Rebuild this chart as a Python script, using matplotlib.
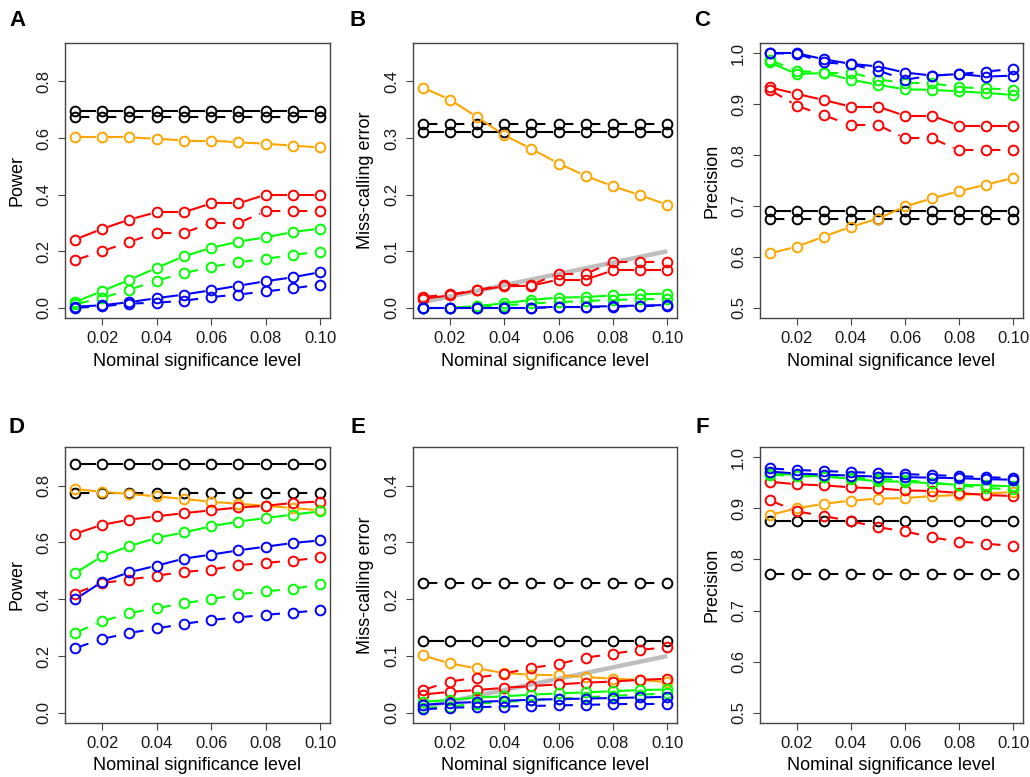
import numpy as np
import matplotlib
matplotlib.use('Agg')
import matplotlib.pyplot as plt

plt.rcParams['font.family'] = ['Liberation Sans', 'DejaVu Sans']

# nominal significance levels (x axis)
NOMINAL = [0.01, 0.02, 0.03, 0.04, 0.05, 0.06, 0.07, 0.08, 0.09, 0.10]
COLORS = ['black', 'orange', 'red', 'green', 'blue']
RCOL = {'black': '#000000', 'orange': '#FFA500', 'red': '#FF0000',
        'green': '#00FF00', 'blue': '#0000FF'}

# ---- panel A : power (solid / dashed)
A_SOLID = {
    'black':  [0.695, 0.695, 0.695, 0.695, 0.695, 0.695, 0.695, 0.695, 0.695, 0.695],
    'orange': [0.602, 0.602, 0.602, 0.598, 0.591, 0.591, 0.585, 0.580, 0.573, 0.567],
    'red':    [0.241, 0.279, 0.312, 0.338, 0.338, 0.369, 0.369, 0.400, 0.400, 0.400],
    'green':  [0.020, 0.059, 0.099, 0.141, 0.182, 0.212, 0.234, 0.249, 0.268, 0.280],
    'blue':   [0.004, 0.009, 0.020, 0.034, 0.047, 0.062, 0.078, 0.094, 0.108, 0.126],
}
A_DASHED = {
    'black':  [0.675, 0.675, 0.675, 0.675, 0.675, 0.675, 0.675, 0.675, 0.675, 0.675],
    'red':    [0.168, 0.200, 0.233, 0.265, 0.265, 0.300, 0.300, 0.341, 0.341, 0.341],
    'green':  [0.012, 0.035, 0.064, 0.096, 0.122, 0.145, 0.161, 0.173, 0.187, 0.199],
    'blue':   [0.000, 0.005, 0.015, 0.018, 0.025, 0.038, 0.047, 0.058, 0.069, 0.082],
}

# ---- panel B : miss-calling error
B_SOLID = {
    'black':  [0.310, 0.310, 0.310, 0.310, 0.310, 0.310, 0.310, 0.310, 0.310, 0.310],
    'orange': [0.389, 0.368, 0.337, 0.305, 0.281, 0.255, 0.233, 0.215, 0.199, 0.182],
    'red':    [0.016, 0.022, 0.031, 0.038, 0.039, 0.050, 0.050, 0.066, 0.066, 0.066],
    'green':  [0.000, 0.000, 0.003, 0.008, 0.014, 0.018, 0.019, 0.022, 0.024, 0.025],
    'blue':   [0.000, 0.000, 0.000, 0.000, 0.000, 0.002, 0.002, 0.003, 0.004, 0.005],
}
B_DASHED = {
    'black':  [0.324, 0.324, 0.324, 0.324, 0.324, 0.324, 0.324, 0.324, 0.324, 0.324],
    'red':    [0.019, 0.024, 0.031, 0.041, 0.041, 0.060, 0.060, 0.081, 0.081, 0.081],
    'green':  [0.000, 0.000, 0.001, 0.004, 0.008, 0.010, 0.012, 0.014, 0.015, 0.016],
    'blue':   [0.000, 0.000, 0.000, 0.000, 0.000, 0.001, 0.001, 0.002, 0.003, 0.004],
}

# ---- panel C : precision
C_SOLID = {
    'black':  [0.690, 0.690, 0.690, 0.690, 0.690, 0.690, 0.690, 0.690, 0.690, 0.690],
    'orange': [0.607, 0.620, 0.640, 0.659, 0.675, 0.699, 0.715, 0.729, 0.742, 0.755],
    'red':    [0.933, 0.920, 0.908, 0.895, 0.895, 0.877, 0.877, 0.858, 0.858, 0.858],
    'green':  [0.982, 0.959, 0.961, 0.948, 0.938, 0.929, 0.928, 0.925, 0.922, 0.918],
    'blue':   [1.000, 1.000, 0.988, 0.979, 0.974, 0.962, 0.956, 0.959, 0.954, 0.956],
}
C_DASHED = {
    'black':  [0.675, 0.675, 0.675, 0.675, 0.675, 0.675, 0.675, 0.675, 0.675, 0.675],
    'red':    [0.928, 0.897, 0.878, 0.859, 0.859, 0.833, 0.833, 0.809, 0.809, 0.809],
    'green':  [0.987, 0.965, 0.962, 0.962, 0.948, 0.942, 0.941, 0.933, 0.931, 0.928],
    'blue':   [1.000, 0.999, 0.982, 0.978, 0.966, 0.948, 0.956, 0.959, 0.964, 0.969],
}

# ---- panel D : power
D_SOLID = {
    'black':  [0.876, 0.876, 0.876, 0.876, 0.876, 0.876, 0.876, 0.876, 0.876, 0.876],
    'orange': [0.788, 0.778, 0.771, 0.762, 0.753, 0.743, 0.736, 0.729, 0.721, 0.713],
    'red':    [0.630, 0.662, 0.680, 0.692, 0.703, 0.713, 0.723, 0.729, 0.739, 0.744],
    'green':  [0.491, 0.551, 0.587, 0.616, 0.635, 0.657, 0.673, 0.686, 0.698, 0.709],
    'blue':   [0.399, 0.461, 0.495, 0.518, 0.543, 0.557, 0.572, 0.585, 0.598, 0.607],
}
D_DASHED = {
    'black':  [0.773, 0.773, 0.773, 0.773, 0.773, 0.773, 0.773, 0.773, 0.773, 0.773],
    'red':    [0.420, 0.457, 0.469, 0.483, 0.496, 0.504, 0.520, 0.528, 0.536, 0.547],
    'green':  [0.281, 0.322, 0.351, 0.368, 0.386, 0.400, 0.417, 0.428, 0.436, 0.453],
    'blue':   [0.227, 0.260, 0.281, 0.297, 0.313, 0.327, 0.336, 0.345, 0.353, 0.361],
}

# ---- panel E : miss-calling error
E_SOLID = {
    'black':  [0.126, 0.126, 0.126, 0.126, 0.126, 0.126, 0.126, 0.126, 0.126, 0.126],
    'orange': [0.101, 0.087, 0.078, 0.070, 0.067, 0.066, 0.063, 0.060, 0.058, 0.054],
    'red':    [0.032, 0.037, 0.040, 0.044, 0.047, 0.050, 0.053, 0.055, 0.058, 0.060],
    'green':  [0.019, 0.023, 0.027, 0.029, 0.032, 0.034, 0.036, 0.038, 0.040, 0.041],
    'blue':   [0.014, 0.017, 0.019, 0.021, 0.023, 0.024, 0.025, 0.026, 0.027, 0.028],
}
E_DASHED = {
    'black':  [0.229, 0.229, 0.229, 0.229, 0.229, 0.229, 0.229, 0.229, 0.229, 0.229],
    'red':    [0.040, 0.055, 0.062, 0.069, 0.079, 0.086, 0.097, 0.104, 0.111, 0.115],
    'green':  [0.008, 0.011, 0.016, 0.019, 0.022, 0.025, 0.027, 0.030, 0.032, 0.034],
    'blue':   [0.006, 0.009, 0.010, 0.011, 0.012, 0.013, 0.014, 0.015, 0.016, 0.016],
}

# ---- panel F : precision
F_SOLID = {
    'black':  [0.876, 0.876, 0.876, 0.876, 0.876, 0.876, 0.876, 0.876, 0.876, 0.876],
    'orange': [0.887, 0.900, 0.909, 0.915, 0.919, 0.920, 0.924, 0.926, 0.929, 0.932],
    'red':    [0.952, 0.947, 0.945, 0.941, 0.939, 0.935, 0.934, 0.930, 0.926, 0.924],
    'green':  [0.969, 0.965, 0.962, 0.958, 0.953, 0.952, 0.949, 0.946, 0.945, 0.943],
    'blue':   [0.972, 0.968, 0.966, 0.964, 0.962, 0.961, 0.960, 0.959, 0.957, 0.956],
}
F_DASHED = {
    'black':  [0.772, 0.772, 0.772, 0.772, 0.772, 0.772, 0.772, 0.772, 0.772, 0.772],
    'red':    [0.916, 0.894, 0.885, 0.875, 0.863, 0.855, 0.843, 0.835, 0.831, 0.826],
    'green':  [0.966, 0.963, 0.962, 0.960, 0.958, 0.955, 0.950, 0.945, 0.940, 0.937],
    'blue':   [0.978, 0.975, 0.973, 0.971, 0.969, 0.967, 0.965, 0.963, 0.961, 0.959],
}

POWER_TICKS = [0.0, 0.2, 0.4, 0.6, 0.8]
ERROR_TICKS = [0.0, 0.1, 0.2, 0.3, 0.4]
PREC_TICKS = [0.5, 0.6, 0.7, 0.8, 0.9, 1.0]
X_TICKS = [0.02, 0.04, 0.06, 0.08, 0.10]

W, H = 1030, 777
LW = 1.5
GAP = 6.0  # px, gap around each point (R type="b")
SPINE = '#444444'


def r_lim(lo, hi):
    # R style 4% extension
    d = (hi - lo) * 0.04
    return lo - d, hi + d


def draw_b(ax, x, y, color, dashed):
    '''points plus line pieces that stop short of each point'''
    to_px = ax.transData
    to_data = ax.transData.inverted()
    pts = to_px.transform(np.column_stack([x, y]))
    for p0, p1 in zip(pts[:-1], pts[1:]):
        d = p1 - p0
        L = np.hypot(d[0], d[1])
        if L <= 2 * GAP:
            continue
        u = d / L
        seg = to_data.transform(np.array([p0 + u * GAP, p1 - u * GAP]))
        ax.plot(seg[:, 0], seg[:, 1], color=color, lw=LW,
                ls=(0, (4, 4)) if dashed else '-', solid_capstyle='butt',
                dash_capstyle='butt', zorder=2)
    ax.plot(x, y, 'o', ms=7, mfc='none', mec=color, mew=1.4, zorder=3)


def panel(px_box, letter, letter_xy, solid, dashed, ylim, yticks, ylabel, diag=False):
    l, t, r, b = px_box
    ax = fig.add_axes([l / W, 1 - b / H, (r - l) / W, (b - t) / H])
    ax.set_xlim(*r_lim(0.01, 0.10))
    ax.set_ylim(*r_lim(*ylim))
    for s in ax.spines.values():
        s.set_color(SPINE)
        s.set_linewidth(1.0)
    ax.set_xticks(X_TICKS)
    ax.set_xticklabels(['%.2f' % v for v in X_TICKS])
    ax.set_yticks(yticks)
    ax.set_yticklabels(['%.1f' % v for v in yticks])
    ax.tick_params(direction='out', length=5, width=0.8, color=SPINE,
                   labelsize=12, labelcolor='#1a1a1a', pad=4)
    ax.tick_params(axis='y', labelrotation=90, pad=5)
    for lab in ax.get_yticklabels():
        lab.set_va('center')
    ax.set_xlabel('Nominal significance level', fontsize=13, va='center')
    ax.xaxis.set_label_coords(0.5, -43 / (b - t))
    ax.set_ylabel(ylabel, fontsize=13, va='center')
    ax.yaxis.set_label_coords(-48 / (r - l), 0.5)

    if diag:
        ax.plot(NOMINAL, NOMINAL, color='#bebebe', lw=3.2, zorder=1,
                solid_capstyle='butt')
    for c in COLORS:
        if c in solid:
            draw_b(ax, NOMINAL, solid[c], RCOL[c], False)
        if c in dashed:
            draw_b(ax, NOMINAL, dashed[c], RCOL[c], True)

    fig.text(letter_xy[0] / W, 1 - letter_xy[1] / H, letter, fontsize=16,
             fontweight='bold', ha='center', va='center')
    return ax


fig = plt.figure(figsize=(W / 100, H / 100), dpi=100)

TOP = (43, 318)
BOT = (447, 723)
panel((65, TOP[0], 330, TOP[1]), 'A', (18, 20), A_SOLID, A_DASHED,
      (0.0, 0.9), POWER_TICKS, 'Power')
panel((413, TOP[0], 677, TOP[1]), 'B', (358, 20), B_SOLID, B_DASHED,
      (0.0, 0.45), ERROR_TICKS, 'Miss-calling error', diag=True)
panel((760, TOP[0], 1023, TOP[1]), 'C', (702, 20), C_SOLID, C_DASHED,
      (0.5, 1.0), PREC_TICKS, 'Precision')
panel((65, BOT[0], 330, BOT[1]), 'D', (17, 427), D_SOLID, D_DASHED,
      (0.0, 0.9), POWER_TICKS, 'Power')
panel((413, BOT[0], 677, BOT[1]), 'E', (358, 427), E_SOLID, E_DASHED,
      (0.0, 0.45), ERROR_TICKS, 'Miss-calling error', diag=True)
panel((760, BOT[0], 1023, BOT[1]), 'F', (702, 427), F_SOLID, F_DASHED,
      (0.5, 1.0), PREC_TICKS, 'Precision')

fig.savefig('out.png', dpi=100)
